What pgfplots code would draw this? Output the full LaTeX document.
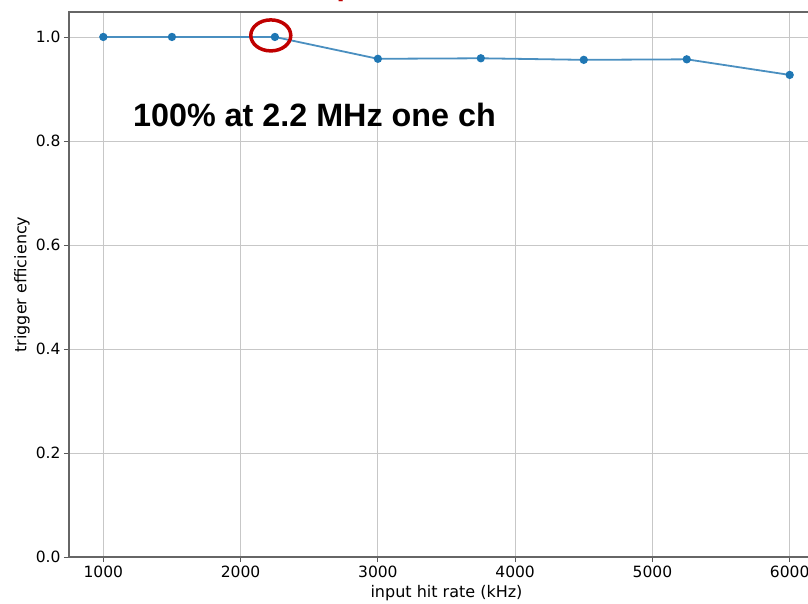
\documentclass[border=0pt]{standalone}
\usepackage{fontspec}
\setmainfont{DejaVu Sans}
\newfontfamily\annfont{Liberation Sans}
\usepackage{pgfplots}
\pgfplotsset{compat=1.18}
\definecolor{mplblue}{HTML}{1F77B4}
\definecolor{lineblue}{HTML}{4A8FC0}
\definecolor{circred}{HTML}{C00000}

\begin{document}
\begin{tikzpicture}
\begin{axis}[
    at={(0,0)}, anchor=south west,
    scale only axis, width=755pt, height=545pt,
    xmin=750, xmax=6250, ymin=0, ymax=1.048,
    xtick={1000,2000,3000,4000,5000,6000},
    ytick={0,0.2,0.4,0.6,0.8,1.0},
    xtick pos=bottom, ytick pos=left,
    tick align=outside, major tick length=5pt,
    grid=major,
    grid style={color=black!22, line width=0.8pt},
    axis line style={black!60, line width=1.2pt},
    tick style={black!65, line width=0.8pt},
    /pgf/number format/assume math mode=true,
    ticklabel style={font=\fontsize{15.5}{18}\selectfont},
    xticklabel style={/pgf/number format/set thousands separator={}},
    yticklabel style={/pgf/number format/.cd, fixed, fixed zerofill, precision=1},
    xlabel={input hit rate (kHz)},
    ylabel={trigger efficiency},
    label style={font=\fontsize{16}{19}\selectfont},
    xlabel style={at={(axis description cs:0.5,-0.066)}, anchor=center},
    ylabel style={at={(axis description cs:-0.0623,0.5)}, anchor=center},
]
% efficiency vs. input rate
\addplot[lineblue, line width=1.8pt, mark=*, mark size=3.2pt,
    mark options={draw=mplblue, fill=mplblue}] coordinates {
    (1000,1.000) (1500,1.000) (2250,1.000) (3000,0.958)
    (3750,0.959) (4500,0.956) (5250,0.957) (6000,0.927)
};
\node[anchor=base west, inner sep=0, font=\annfont\bfseries\fontsize{32.3}{38}\selectfont]
    at (axis cs:1216,0.827) {100\% at 2.2 MHz one ch};
\draw[circred, line width=3.5pt] (axis cs:2220,1.003) ellipse [x radius=20pt, y radius=15.5pt];
\end{axis}
% title of the slide, cut off at the top edge
\node[anchor=base west, inner sep=0, text=circred, font=\annfont\bfseries\fontsize{30}{36}\selectfont]
    at (267.5pt,561pt) {p};
\pgfresetboundingbox
\useasboundingbox (-69pt,-46pt) rectangle (739pt,557pt);
\end{tikzpicture}
\end{document}
